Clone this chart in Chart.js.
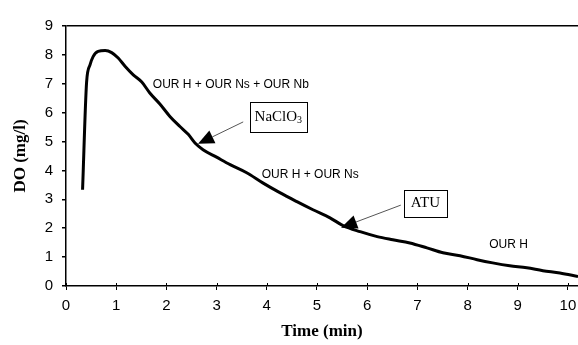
<!DOCTYPE html>
<html lang="en">
<head>
    <meta charset="UTF-8">
    <title>DO vs Time</title>
    <script src="https://cdn.jsdelivr.net/npm/chart.js"></script>
    <style>
        body { margin: 0; background: #fff; }
        #wrap { width: 578px; height: 345px; position: relative; }
    </style>
</head>
<body>
    <div id="wrap"><canvas id="graficoDO"></canvas></div>

    <script>
        // dados
        const tempoMin = [0.33, 0.41, 0.48, 0.54, 0.64, 0.78, 0.91, 1.04, 1.18, 1.34, 1.51, 1.67, 1.87, 2.07, 2.27, 2.44, 2.57, 2.73, 3.0, 3.27, 3.6, 3.92, 4.26, 4.6, 4.92, 5.26, 5.52, 5.86, 6.2, 6.51, 6.85, 7.19, 7.51, 7.85, 8.19, 8.5, 8.84, 9.18, 9.5, 9.84, 10.2];
        const doMgL = [3.33, 7.05, 7.66, 7.94, 8.12, 8.15, 8.08, 7.89, 7.6, 7.31, 7.06, 6.68, 6.3, 5.87, 5.52, 5.24, 4.95, 4.72, 4.46, 4.2, 3.92, 3.57, 3.23, 2.92, 2.64, 2.36, 2.09, 1.88, 1.71, 1.6, 1.49, 1.32, 1.15, 1.05, 0.91, 0.8, 0.7, 0.63, 0.53, 0.45, 0.33];
        const xTicks = [0, 1, 2, 3, 4, 5, 6, 7, 8, 9, 10];
        const yTicks = [0, 1, 2, 3, 4, 5, 6, 7, 8, 9];

        // anotacoes (coordenadas em unidades dos eixos)
        const rotulos = [
            { text: 'OUR H + OUR Ns + OUR Nb', x: 1.73, y: 6.97 },
            { text: 'OUR H + OUR Ns', x: 3.90, y: 3.85 },
            { text: 'OUR H', x: 8.43, y: 1.43 }
        ];
        const caixas = [
            { text: 'NaClO', sub: '3', x: 4.23, y: 5.86, w: 57, h: 30, from: [3.53, 5.68], tip: [2.63, 4.92] },
            { text: 'ATU', sub: '', x: 7.16, y: 2.87, w: 43, h: 27, from: [6.67, 2.80], tip: [5.48, 2.02] }
        ];

        const anotacoes = {
            id: 'anotacoes',
            afterDatasetsDraw(chart) {
                const ctx = chart.ctx;
                const sx = chart.scales.x, sy = chart.scales.y;
                ctx.save();

                // marcas internas do eixo x
                ctx.strokeStyle = '#000';
                ctx.lineWidth = 1;
                xTicks.forEach(v => {
                    const px = Math.round(sx.getPixelForValue(v)) + 0.5;
                    ctx.beginPath();
                    ctx.moveTo(px, sy.bottom - 3);
                    ctx.lineTo(px, sy.bottom);
                    ctx.stroke();
                });

                ctx.fillStyle = '#000';
                ctx.font = '12px "Liberation Sans", Arial, sans-serif';
                ctx.textAlign = 'left';
                ctx.textBaseline = 'middle';
                rotulos.forEach(r => {
                    ctx.fillText(r.text, sx.getPixelForValue(r.x), sy.getPixelForValue(r.y));
                });

                caixas.forEach(c => {
                    const fx = sx.getPixelForValue(c.from[0]), fy = sy.getPixelForValue(c.from[1]);
                    const tx = sx.getPixelForValue(c.tip[0]), ty = sy.getPixelForValue(c.tip[1]);
                    const ang = Math.atan2(fy - ty, fx - tx);
                    const len = 16, half = 7;
                    const bx = tx + Math.cos(ang) * len, by = ty + Math.sin(ang) * len;

                    ctx.strokeStyle = '#555';
                    ctx.lineWidth = 1;
                    ctx.beginPath();
                    ctx.moveTo(fx, fy);
                    ctx.lineTo(bx, by);
                    ctx.stroke();

                    ctx.fillStyle = '#000';
                    ctx.beginPath();
                    ctx.moveTo(tx, ty);
                    ctx.lineTo(bx - Math.sin(ang) * half, by + Math.cos(ang) * half);
                    ctx.lineTo(bx + Math.sin(ang) * half, by - Math.cos(ang) * half);
                    ctx.closePath();
                    ctx.fill();

                    const cx = sx.getPixelForValue(c.x), cy = sy.getPixelForValue(c.y);
                    const left = Math.round(cx - c.w / 2) + 0.5, top = Math.round(cy - c.h / 2) + 0.5;
                    ctx.fillStyle = '#fff';
                    ctx.fillRect(left, top, c.w, c.h);
                    ctx.strokeStyle = '#000';
                    ctx.strokeRect(left, top, c.w, c.h);

                    ctx.font = '15px "Liberation Serif", "Times New Roman", serif';
                    const w1 = ctx.measureText(c.text).width;
                    ctx.font = '10px "Liberation Serif", "Times New Roman", serif';
                    const w2 = c.sub ? ctx.measureText(c.sub).width : 0;
                    let x0 = cx - (w1 + w2) / 2;
                    ctx.fillStyle = '#000';
                    ctx.textAlign = 'left';
                    ctx.textBaseline = 'middle';
                    ctx.font = '15px "Liberation Serif", "Times New Roman", serif';
                    ctx.fillText(c.text, x0, cy);
                    if (c.sub) {
                        ctx.font = '10px "Liberation Serif", "Times New Roman", serif';
                        ctx.fillText(c.sub, x0 + w1, cy + 4);
                    }
                });
                ctx.restore();
            }
        };

        const ctx = document.getElementById('graficoDO').getContext('2d');
        new Chart(ctx, {
            type: 'line',
            data: {
                datasets: [{
                    label: 'DO',
                    data: tempoMin.map((t, i) => ({ x: t, y: doMgL[i] })),
                    borderColor: '#000',
                    borderWidth: 3,
                    pointRadius: 0,
                    cubicInterpolationMode: 'monotone',
                    fill: false
                }]
            },
            options: {
                responsive: true,
                maintainAspectRatio: false,
                animation: false,
                layout: { padding: { top: 26, right: 0, left: 0, bottom: 0 } },
                plugins: {
                    legend: { display: false },
                    tooltip: { enabled: false }
                },
                scales: {
                    x: {
                        type: 'linear',
                        min: 0,
                        max: 10.2,
                        afterBuildTicks: s => { s.ticks = xTicks.map(v => ({ value: v })); },
                        afterFit: s => { s.height = 59; s.paddingRight = 0; s.paddingLeft = 0; },
                        border: { color: '#000', width: 1.5 },
                        grid: { drawOnChartArea: false, tickLength: 4, tickColor: '#000' },
                        ticks: {
                            padding: 7,
                            color: '#000',
                            maxRotation: 0,
                            font: { family: '"Liberation Sans", Arial, sans-serif', size: 15 }
                        },
                        title: {
                            display: true,
                            text: 'Time (min)',
                            color: '#000',
                            padding: { top: 0, bottom: 3 },
                            font: { family: '"Liberation Serif", "Times New Roman", serif', size: 17, weight: 'bold' }
                        }
                    },
                    y: {
                        min: 0,
                        max: 9,
                        afterBuildTicks: s => { s.ticks = yTicks.map(v => ({ value: v })); },
                        afterFit: s => { s.width = 66; },
                        border: { color: '#000', width: 1.5 },
                        grid: {
                            drawOnChartArea: true,
                            tickLength: 4,
                            tickColor: '#000',
                            lineWidth: 1.5,
                            color: c => (c.tick && c.tick.value === 9 ? '#000' : 'rgba(0,0,0,0)')
                        },
                        ticks: {
                            padding: 9,
                            color: '#000',
                            font: { family: '"Liberation Sans", Arial, sans-serif', size: 15 }
                        },
                        title: {
                            display: true,
                            text: 'DO (mg/l)',
                            color: '#000',
                            padding: { top: 10, bottom: 0 },
                            font: { family: '"Liberation Serif", "Times New Roman", serif', size: 17, weight: 'bold' }
                        }
                    }
                }
            },
            plugins: [anotacoes]
        });
    </script>
</body>
</html>
